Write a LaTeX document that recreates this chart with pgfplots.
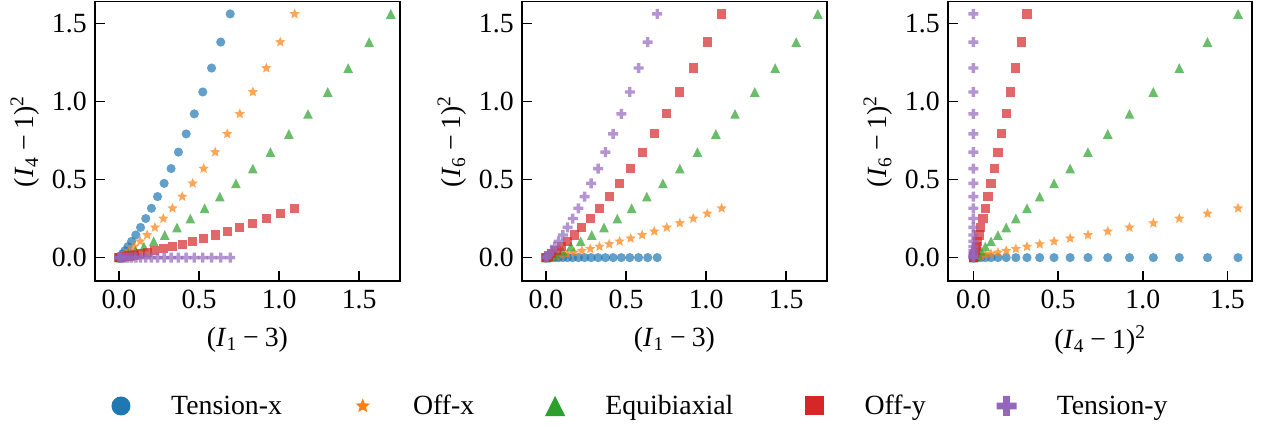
\documentclass[border=0pt]{standalone}
\usepackage{fontspec}
\setmainfont{Liberation Serif}
\usepackage{pgfplots}
\pgfplotsset{compat=1.18}
\usepackage{pgfplotstable}
\definecolor{tabblue}{HTML}{1F77B4}
\definecolor{taborange}{HTML}{FF7F0E}
\definecolor{tabgreen}{HTML}{2CA02C}
\definecolor{tabred}{HTML}{D62728}
\definecolor{tabpurple}{HTML}{9467BD}
\newcommand\fsz{\fontsize{20}{24}\selectfont}

\pgfdeclareplotmark{mcirc}{%
  \pgfpathcircle{\pgfpointorigin}{\pgfplotmarksize}%
  \pgfusepathqfill}
\pgfdeclareplotmark{msq}{%
  \pgfpathrectangle{\pgfpoint{-\pgfplotmarksize}{-\pgfplotmarksize}}{\pgfpoint{2\pgfplotmarksize}{2\pgfplotmarksize}}%
  \pgfusepathqfill}
\pgfdeclareplotmark{mtri}{%
  \pgfpathmoveto{\pgfpoint{0pt}{\pgfplotmarksize}}%
  \pgfpathlineto{\pgfpoint{-\pgfplotmarksize}{-\pgfplotmarksize}}%
  \pgfpathlineto{\pgfpoint{\pgfplotmarksize}{-\pgfplotmarksize}}%
  \pgfpathclose
  \pgfusepathqfill}
\pgfdeclareplotmark{mstar}{%
  \pgfpathmoveto{\pgfpointpolar{90}{\pgfplotmarksize}}%
  \pgfpathlineto{\pgfpointpolar{126}{0.45\pgfplotmarksize}}%
  \pgfpathlineto{\pgfpointpolar{162}{\pgfplotmarksize}}%
  \pgfpathlineto{\pgfpointpolar{198}{0.45\pgfplotmarksize}}%
  \pgfpathlineto{\pgfpointpolar{234}{\pgfplotmarksize}}%
  \pgfpathlineto{\pgfpointpolar{270}{0.45\pgfplotmarksize}}%
  \pgfpathlineto{\pgfpointpolar{306}{\pgfplotmarksize}}%
  \pgfpathlineto{\pgfpointpolar{342}{0.45\pgfplotmarksize}}%
  \pgfpathlineto{\pgfpointpolar{18}{\pgfplotmarksize}}%
  \pgfpathlineto{\pgfpointpolar{54}{0.45\pgfplotmarksize}}%
  \pgfpathclose
  \pgfusepathqfill}
\pgfdeclareplotmark{mplus}{%
  \pgfpathmoveto{\pgfpoint{0.34\pgfplotmarksize}{\pgfplotmarksize}}%
  \pgfpathlineto{\pgfpoint{-0.34\pgfplotmarksize}{\pgfplotmarksize}}%
  \pgfpathlineto{\pgfpoint{-0.34\pgfplotmarksize}{0.34\pgfplotmarksize}}%
  \pgfpathlineto{\pgfpoint{-\pgfplotmarksize}{0.34\pgfplotmarksize}}%
  \pgfpathlineto{\pgfpoint{-\pgfplotmarksize}{-0.34\pgfplotmarksize}}%
  \pgfpathlineto{\pgfpoint{-0.34\pgfplotmarksize}{-0.34\pgfplotmarksize}}%
  \pgfpathlineto{\pgfpoint{-0.34\pgfplotmarksize}{-\pgfplotmarksize}}%
  \pgfpathlineto{\pgfpoint{0.34\pgfplotmarksize}{-\pgfplotmarksize}}%
  \pgfpathlineto{\pgfpoint{0.34\pgfplotmarksize}{-0.34\pgfplotmarksize}}%
  \pgfpathlineto{\pgfpoint{\pgfplotmarksize}{-0.34\pgfplotmarksize}}%
  \pgfpathlineto{\pgfpoint{\pgfplotmarksize}{0.34\pgfplotmarksize}}%
  \pgfpathlineto{\pgfpoint{0.34\pgfplotmarksize}{0.34\pgfplotmarksize}}%
  \pgfpathclose
  \pgfusepathqfill}

% columns: x1 = I1-3, p4 = (I4-1)^2, p6 = (I6-1)^2
\pgfplotstableread{
x1 p4 p6
0 0 0
0.002439 0.002563 0
0.009529 0.010506 0
0.020956 0.024219 0
0.036446 0.044100 0
0.055748 0.070557 0
0.078644 0.104006 0
0.104935 0.144875 0
0.134444 0.193600 0
0.167014 0.250625 0
0.202500 0.316406 0
0.240773 0.391407 0
0.281716 0.476100 0
0.325222 0.570969 0
0.371197 0.676506 0
0.419551 0.793213 0
0.470204 0.921600 0
0.523084 1.062188 0
0.578124 1.215506 0
0.635263 1.382094 0
0.694444 1.562500 0
}\tensionx
\pgfplotstableread{
x1 p4 p6
0 0 0
0.002439 0 0.002563
0.009529 0 0.010506
0.020956 0 0.024219
0.036446 0 0.044100
0.055748 0 0.070557
0.078644 0 0.104006
0.104935 0 0.144875
0.134444 0 0.193600
0.167014 0 0.250625
0.202500 0 0.316406
0.240773 0 0.391407
0.281716 0 0.476100
0.325222 0 0.570969
0.371197 0 0.676506
0.419551 0 0.793213
0.470204 0 0.921600
0.523084 0 1.062188
0.578124 0 1.215506
0.635263 0 1.382094
0.694444 0 1.562500
}\tensiony
\pgfplotstableread{
x1 p4 p6
0 0 0
0.007200 0.002563 0.002563
0.027702 0.010506 0.010506
0.060048 0.024219 0.024219
0.103013 0.044100 0.044100
0.155545 0.070557 0.070557
0.216753 0.104006 0.104006
0.285875 0.144875 0.144875
0.362253 0.193600 0.193600
0.445324 0.250625 0.250625
0.534600 0.316406 0.316406
0.629657 0.391407 0.391407
0.730128 0.476100 0.476100
0.835691 0.570969 0.570969
0.946068 0.676506 0.676506
1.061012 0.793213 0.793213
1.180308 0.921600 0.921600
1.303766 1.062188 1.062188
1.431218 1.215506 1.215506
1.562517 1.382094 1.382094
1.697531 1.562500 1.562500
}\equibi
\pgfplotstableread{
x1 p4 p6
0 0 0
0.004239 0.002563 0.000633
0.016450 0.010506 0.002563
0.035940 0.024219 0.005838
0.062111 0.044100 0.010506
0.094432 0.070557 0.016617
0.132441 0.104006 0.024219
0.175724 0.144875 0.033363
0.223921 0.193600 0.044100
0.276710 0.250625 0.056480
0.333804 0.316406 0.070557
0.394950 0.391407 0.086381
0.459922 0.476100 0.104006
0.528516 0.570969 0.123486
0.600552 0.676506 0.144875
0.675864 0.793213 0.168228
0.754308 0.921600 0.193600
0.835751 1.062188 0.221047
0.920076 1.215506 0.250625
1.007172 1.382094 0.282392
1.096944 1.562500 0.316406
}\offx
\pgfplotstableread{
x1 p4 p6
0 0 0
0.004239 0.000633 0.002563
0.016450 0.002563 0.010506
0.035940 0.005838 0.024219
0.062111 0.010506 0.044100
0.094432 0.016617 0.070557
0.132441 0.024219 0.104006
0.175724 0.033363 0.144875
0.223921 0.044100 0.193600
0.276710 0.056480 0.250625
0.333804 0.070557 0.316406
0.394950 0.086381 0.391407
0.459922 0.104006 0.476100
0.528516 0.123486 0.570969
0.600552 0.144875 0.676506
0.675864 0.168228 0.793213
0.754308 0.193600 0.921600
0.835751 0.221047 1.062188
0.920076 0.250625 1.215506
1.007172 0.282392 1.382094
1.096944 0.316406 1.562500
}\offy

\pgfplotsset{
  panel/.style={
    scale only axis, width=219.6pt, height=201.1pt, anchor=south west,
    ymin=-0.15, ymax=1.641,
    xtick={0,0.5,1,1.5}, ytick={0,0.5,1,1.5},
    tick align=inside, tick pos=left,
    major tick length=7pt,
    axis line style={line width=1.1pt, black},
    major tick style={line width=1.1pt, black},
    ticklabel style={font=\fsz, inner sep=0pt},
    xticklabel style={yshift=-6.5pt},
    yticklabel style={xshift=-5.8pt},
    label style={font=\fsz},
    xlabel style={at={(axis description cs:0.5,-0.211)}, anchor=center},
    ylabel style={at={(axis description cs:-0.2295,0.5)}, anchor=center},
    /pgf/number format/.cd, fixed, fixed zerofill, precision=1, assume math mode=true,
    /pgfplots/.cd,
  },
  tx/.style={only marks, forget plot, mark=mcirc, mark size=3.3pt, mark options={fill=tabblue, fill opacity=0.7}},
  ox/.style={only marks, forget plot, mark=mstar, mark size=3.9pt, mark options={fill=taborange, fill opacity=0.7}},
  eq/.style={only marks, forget plot, mark=mtri, mark size=3.5pt, mark options={fill=tabgreen, fill opacity=0.7}},
  oy/.style={only marks, forget plot, mark=msq, mark size=3.3pt, mark options={fill=tabred, fill opacity=0.7}},
  ty/.style={only marks, forget plot, mark=mplus, mark size=3.6pt, mark options={fill=tabpurple, fill opacity=0.7}},
}

\begin{document}
\begin{tikzpicture}
\useasboundingbox (0pt,0pt) rectangle (913.68pt,308.16pt);
% Panel 1
\begin{axis}[panel, at={(68.4pt,105.84pt)},
  xmin=-0.15, xmax=1.755,
  xlabel={(\textit{I}\textsubscript{1}\hspace{0.22em}−\hspace{0.22em}3)},
  ylabel={(\textit{I}\textsubscript{4}\hspace{0.22em}−\hspace{0.22em}1)\textsuperscript{2}},
  legend columns=5, legend cell align=left,
  legend image code/.code={\path (-10pt,0pt) (10pt,0pt); \draw[#1] plot coordinates {(0pt,0pt)};},
  legend style={at={(axis description cs:0.0387,-0.4475)}, anchor=west, draw=none, fill=none,
    inner sep=0pt, outer sep=0pt, font=\fsz, column sep=0pt, nodes={inner sep=0pt},
    /tikz/every odd column/.append style={column sep=26pt},
    /tikz/every even column/.append style={column sep=48pt}},
]
\addplot[tx] table[x=x1,y=p4]{\tensionx};
\addplot[ox] table[x=x1,y=p4]{\offx};
\addplot[eq] table[x=x1,y=p4]{\equibi};
\addplot[oy] table[x=x1,y=p4]{\offy};
\addplot[ty] table[x=x1,y=p4]{\tensiony};
\addlegendimage{mark=mcirc, mark size=6.84pt, mark options={fill=tabblue}}
\addlegendentry{Tension-x}
\addlegendimage{mark=mstar, mark size=5.4pt, mark options={fill=taborange}}
\addlegendentry{Off-x}
\addlegendimage{mark=mtri, mark size=7.3pt, mark options={fill=tabgreen}}
\addlegendentry{Equibiaxial}
\addlegendimage{mark=msq, mark size=6.84pt, mark options={fill=tabred}}
\addlegendentry{Off-y}
\addlegendimage{mark=mplus, mark size=7.2pt, mark options={fill=tabpurple}}
\addlegendentry{Tension-y}
\end{axis}
% Panel 2
\begin{axis}[panel, at={(375.84pt,105.84pt)},
  xmin=-0.15, xmax=1.755,
  xlabel={(\textit{I}\textsubscript{1}\hspace{0.22em}−\hspace{0.22em}3)},
  ylabel={(\textit{I}\textsubscript{6}\hspace{0.22em}−\hspace{0.22em}1)\textsuperscript{2}},
]
\addplot[tx] table[x=x1,y=p6]{\tensionx};
\addplot[ox] table[x=x1,y=p6]{\offx};
\addplot[eq] table[x=x1,y=p6]{\equibi};
\addplot[oy] table[x=x1,y=p6]{\offy};
\addplot[ty] table[x=x1,y=p6]{\tensiony};
\end{axis}
% Panel 3
\begin{axis}[panel, at={(682.56pt,105.84pt)}, width=218.9pt,
  xmin=-0.15, xmax=1.645,
  xlabel={(\textit{I}\textsubscript{4}\hspace{0.22em}−\hspace{0.22em}1)\textsuperscript{2}},
  ylabel={(\textit{I}\textsubscript{6}\hspace{0.22em}−\hspace{0.22em}1)\textsuperscript{2}},
]
\addplot[tx] table[x=p4,y=p6]{\tensionx};
\addplot[ox] table[x=p4,y=p6]{\offx};
\addplot[eq] table[x=p4,y=p6]{\equibi};
\addplot[oy] table[x=p4,y=p6]{\offy};
\addplot[ty] table[x=p4,y=p6]{\tensiony};
\end{axis}
\end{tikzpicture}
\end{document}
